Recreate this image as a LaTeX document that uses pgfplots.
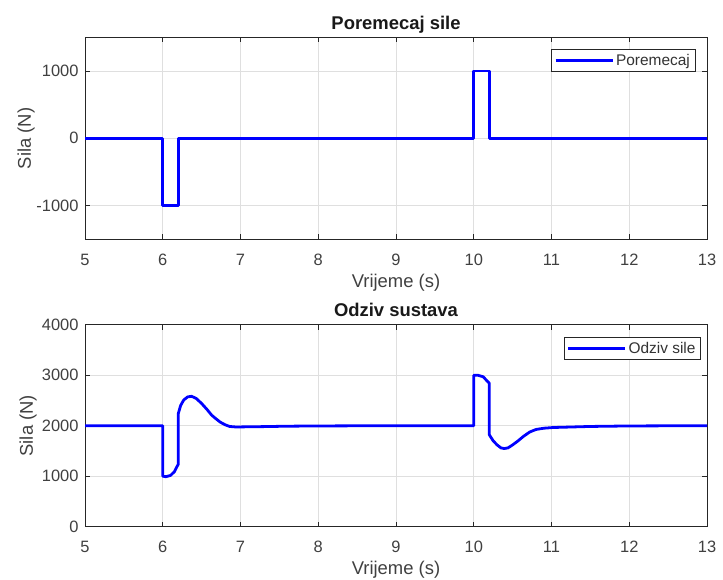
\documentclass[border=0pt]{standalone}
\usepackage{fontspec}
\setmainfont{Liberation Sans}
\usepackage{pgfplots}
\pgfplotsset{compat=1.18}
\definecolor{axgray}{HTML}{262626}
\definecolor{gridgray}{HTML}{DFDFDF}
\begin{document}
\begin{tikzpicture}[x=1bp,y=1bp]
\useasboundingbox (0,0) rectangle (723,580);
\pgfplotsset{
  mystyle/.style={
    scale only axis, width=622bp, height=202bp,
    anchor=south west,
    xmin=5, xmax=13, xtick={5,6,...,13},
    grid=major, major grid style={gridgray, line width=0.6pt},
    axis line style={axgray, line width=0.7pt},
    tick style={axgray, line width=0.6pt},
    tick align=inside, major tick length=5bp,
    ticklabel style={font=\fontsize{16.5}{16.5}\selectfont, text=black!75},
    xticklabel style={anchor=base, yshift=-26bp},
    yticklabel style={anchor=east, xshift=-3bp},
    /pgf/number format/assume math mode=true,
    /pgf/number format/1000 sep={},
    every axis x label/.style={at={(rel axis cs:0.5,0)}, anchor=base, yshift=-48bp, font=\fontsize{18.5}{18.5}\selectfont, text=black!75},
    every axis title/.style={at={(rel axis cs:0.5,1)}, anchor=base, yshift=8bp, font=\fontsize{18.5}{18.5}\selectfont\bfseries, text=black!90},
    xlabel={Vrijeme (s)}, ylabel={Sila (N)},
    legend style={font=\fontsize{15.5}{15.5}\selectfont, draw=axgray, line width=0.6pt, inner sep=3pt, text=black!80},
    legend cell align=left,
    legend image code/.code={\draw[#1] plot coordinates {(0bp,0bp) (57bp,0bp)};},
  }
}
\begin{axis}[mystyle, at={(85bp,340.7bp)},
  ymin=-1500, ymax=1500, ytick={-1000,0,1000},
  title={Poremecaj sile},
  every axis y label/.style={at={(rel axis cs:0,0.5)}, anchor=base, xshift=-54bp, rotate=90, font=\fontsize{18.5}{18.5}\selectfont, text=black!75},
  legend style={at={(rel axis cs:0.981,0.943)}, anchor=north east}]
\addplot[blue, line width=2.8pt, line join=round] coordinates {
(5,0) (6,0) (6,-1000) (6.2,-1000) (6.2,0) (10,0) (10,1000) (10.2,1000) (10.2,0) (13,0)};
\addlegendentry{Poremecaj}
\end{axis}
\begin{axis}[mystyle, at={(85bp,53.3bp)},
  ymin=0, ymax=4000, ytick={0,1000,2000,3000,4000},
  title={Odziv sustava},
  every axis y label/.style={at={(rel axis cs:0,0.5)}, anchor=base, xshift=-52bp, rotate=90, font=\fontsize{18.5}{18.5}\selectfont, text=black!75},
  legend style={at={(rel axis cs:0.99,0.94)}, anchor=north east}]
\addplot[blue, line width=2.8pt, line join=round] coordinates {
(5,2000) (6,2000) (6,1000) (6.04,990) (6.1,1015) (6.15,1090) (6.2,1240)
(6.2,2240) (6.23,2400) (6.27,2510) (6.32,2570) (6.37,2583) (6.43,2540) (6.5,2440)
(6.57,2320) (6.63,2207) (6.69,2130) (6.74,2070) (6.8,2020) (6.86,1985) (6.93,1976)
(7.0,1976) (7.3,1982) (7.6,1990) (8,1995) (9,2000) (10,2000)
(10,3000) (10.05,3000) (10.12,2970) (10.2,2840) (10.2,1820) (10.25,1700) (10.3,1620)
(10.35,1560) (10.39,1548) (10.44,1560) (10.5,1620) (10.57,1700) (10.64,1790)
(10.72,1875) (10.8,1925) (10.9,1950) (11.02,1964) (11.5,1985) (12,1995) (13,2000)};
\addlegendentry{Odziv sile}
\end{axis}
\end{tikzpicture}
\end{document}
